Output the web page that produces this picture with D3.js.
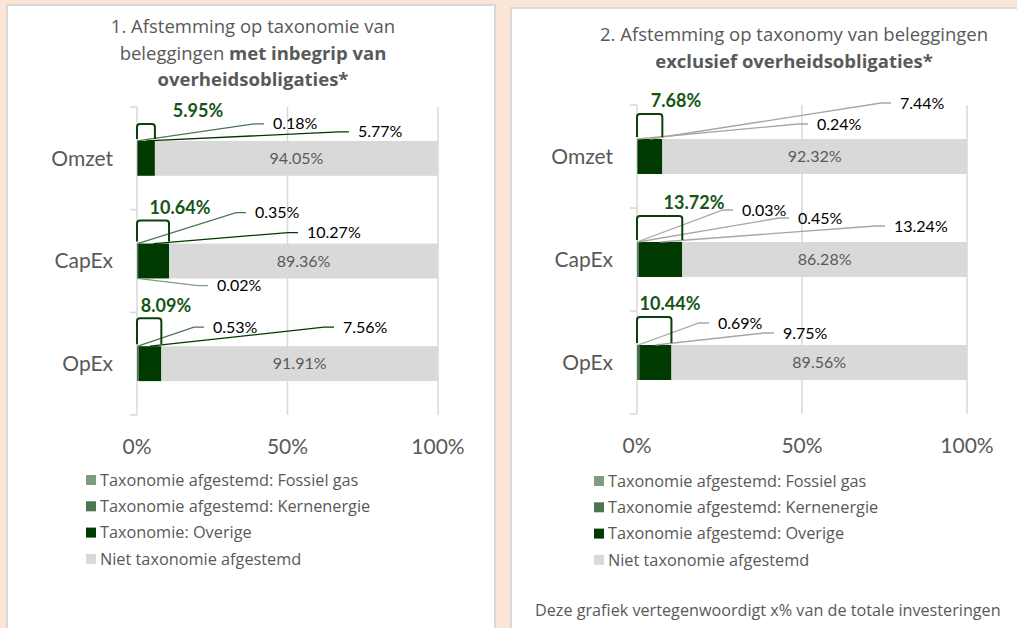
<!DOCTYPE html>
<html>
<head>
<meta charset="utf-8">
<script src="https://cdn.jsdelivr.net/npm/d3@7"></script>
<style>
  body { margin: 0; background: #FBE5D6; }
  svg { display: block; font-family: Lato, 'Open Sans', sans-serif; }
  .wide { font-family: 'Open Sans', Lato, sans-serif; }
</style>
</head>
<body>
<svg id="chart" width="1017" height="628"></svg>
<script>
// Categories and axis ticks
const categories = ['Omzet', 'CapEx', 'OpEx'];
const xTicks = [0, 50, 100];

// Legend labels per chart
const legend1 = ['Taxonomie afgestemd: Fossiel gas', 'Taxonomie afgestemd: Kernenergie', 'Taxonomie: Overige', 'Niet taxonomie afgestemd'];
const legend2 = ['Taxonomie afgestemd: Fossiel gas', 'Taxonomie afgestemd: Kernenergie', 'Taxonomie afgestemd: Overige', 'Niet taxonomie afgestemd'];

// Chart 1: met inbegrip van overheidsobligaties (%)
const fossilGas1 = [0, 0.02, 0];
const nuclear1 = [0.18, 0.35, 0.53];
const other1 = [5.77, 10.27, 7.56];
const notAligned1 = [94.05, 89.36, 91.91];

// Chart 2: exclusief overheidsobligaties (%)
const fossilGas2 = [0, 0.03, 0];
const nuclear2 = [0.24, 0.45, 0.69];
const other2 = [7.44, 13.24, 9.75];
const notAligned2 = [92.32, 86.28, 89.56];

const keys = ['fossil', 'nuclear', 'other', 'not'];
const colors = { fossil: '#7F9D80', nuclear: '#4E7552', other: '#013A01', not: '#D9D9D9' };

// hand placed label offsets (px from bar start / bar top), like the Excel original
const labelOffsets1 = [
  [null, [136, -17], [221, -9]],
  [[80, 42], [118, -31], [170, -11]],
  [null, [76, -19], [206, -19]]
];
const totalOffsets1 = [[61, -30], [43, -36], [29, -41]];
const labelOffsets2 = [
  [null, [180, -15], [263, -36]],
  [[105, -32], [161, -24], [257, -16]],
  [null, [81, -22], [146, -12]]
];
const totalOffsets2 = [[39, -38], [57, -39], [33, -41]];

const svg = d3.select('#chart');
const grey = '#595959';

// panels
svg.append('rect').attr('x', 7).attr('y', 5).attr('width', 488).attr('height', 660)
  .attr('fill', '#fff').attr('stroke', '#D9D9D9').attr('stroke-width', 2);
svg.append('rect').attr('x', 511).attr('y', 8).attr('width', 540).attr('height', 660)
  .attr('fill', '#fff').attr('stroke', '#D9D9D9').attr('stroke-width', 2);

function drawChart(opt) {
  const rows = categories.map((c, i) => ({
    cat: c, fossil: opt.fossil[i], nuclear: opt.nuclear[i], other: opt.other[i], not: opt.not[i]
  }));
  const stacked = d3.stack().keys(keys)(rows);

  const x = d3.scaleLinear().domain([0, 100]).range([opt.left, opt.right]);
  const y = d3.scaleBand().domain(categories).range([opt.top, opt.bottom])
    .paddingInner(0.66).paddingOuter(0.33);

  const g = svg.append('g');

  // vertical gridlines
  g.selectAll('.grid').data(xTicks).join('line')
    .attr('x1', d => x(d)).attr('x2', d => x(d))
    .attr('y1', opt.top).attr('y2', opt.bottom)
    .attr('stroke', '#D9D9D9').attr('stroke-width', 1.5);

  // category boundary ticks
  d3.range(categories.length + 1).forEach(i => {
    const yy = opt.top + i * y.step();
    g.append('line').attr('x1', x(0) - 7).attr('x2', x(0))
      .attr('y1', yy).attr('y2', yy)
      .attr('stroke', '#D9D9D9').attr('stroke-width', 1.5);
  });

  // x tick labels
  g.selectAll('.xt').data(xTicks).join('text')
    .attr('x', d => x(d)).attr('y', opt.bottom + 32)
    .attr('dy', '0.35em').attr('text-anchor', 'middle')
    .attr('fill', grey).style('font-size', '21px')
    .text(d => d + '%');

  // category labels
  g.selectAll('.cat').data(categories).join('text')
    .attr('x', x(0) - 24).attr('y', d => y(d) + y.bandwidth() / 2)
    .attr('dy', '0.35em').attr('text-anchor', 'end')
    .attr('fill', grey).style('font-size', '21px')
    .text(d => d);

  // bars
  g.selectAll('.layer').data(stacked).join('g')
    .attr('fill', d => colors[d.key])
    .selectAll('rect').data(d => d).join('rect')
    .attr('x', d => x(d[0]))
    .attr('width', d => x(d[1]) - x(d[0]))
    .attr('y', d => y(d.data.cat))
    .attr('height', y.bandwidth());

  // inside labels for the not-aligned part
  const notLayer = stacked[3];
  g.selectAll('.inlab').data(notLayer).join('text')
    .attr('x', d => (x(d[0]) + x(d[1])) / 2)
    .attr('y', d => y(d.data.cat) + y.bandwidth() / 2)
    .attr('dy', '0.35em').attr('text-anchor', 'middle')
    .attr('fill', grey).style('font-size', '16px')
    .text(d => d[1] - d[0] === 0 ? '' : d.data.not.toFixed(2) + '%');

  // leader labels for aligned parts
  categories.forEach((cat, ci) => {
    const barTop = y(cat);
    const barBottom = barTop + y.bandwidth();
    [0, 1, 2].forEach(si => {
      const off = opt.labelOffsets[ci][si];
      const seg = stacked[si][ci];
      const val = seg.data[keys[si]];
      if (!off || !val) return;
      const tx = x(0) + off[0];
      const ty = barTop + off[1];
      const ax = x((seg[0] + seg[1]) / 2);
      const ay = off[1] > 0 ? barBottom : barTop;
      const endX = tx - 9;
      g.append('path')
        .attr('d', `M${ax},${ay}L${endX - 10},${ty}L${endX},${ty}`)
        .attr('fill', 'none')
        .attr('stroke', opt.lineColor || colors[keys[si]])
        .attr('stroke-width', 1.3);
      g.append('text')
        .attr('x', tx).attr('y', ty).attr('dy', '0.35em')
        .attr('fill', '#000').style('font-size', '16px')
        .text(val.toFixed(2) + '%');
    });

    // total aligned label with bracket
    const total = opt.fossil[ci] + opt.nuclear[ci] + opt.other[ci];
    const toff = opt.totalOffsets[ci];
    const ly = barTop + toff[1];
    const bx0 = x(0), bx1 = x(total);
    const by0 = ly + 13, by1 = barTop - 2, r = 3;
    g.append('path')
      .attr('d', `M${bx0},${by1}L${bx0},${by0 + r}Q${bx0},${by0} ${bx0 + r},${by0}L${bx1 - r},${by0}Q${bx1},${by0} ${bx1},${by0 + r}L${bx1},${by1}`)
      .attr('fill', 'none').attr('stroke', '#0B3F0B').attr('stroke-width', 2);
    g.append('text')
      .attr('x', x(0) + toff[0]).attr('y', ly).attr('dy', '0.35em')
      .attr('text-anchor', 'middle')
      .attr('fill', '#165516').style('font-size', '18px').style('font-weight', 'bold')
      .text(total.toFixed(2) + '%');
  });

  // title
  const title = g.append('text').attr('class', 'wide').attr('text-anchor', 'middle')
    .attr('fill', grey).style('font-size', '18.5px');
  opt.title.forEach((line, li) => {
    const t = title.append('tspan').attr('x', opt.titleX).attr('y', opt.titleY + li * 26.5);
    line.forEach(part => {
      t.append('tspan').style('font-weight', part[1] ? 'bold' : 'normal').text(part[0]);
    });
  });

  // legend
  const leg = g.selectAll('.leg').data(opt.legend).join('g')
    .attr('transform', (d, i) => `translate(${opt.legendX},${opt.legendY + i * 26.3})`);
  leg.append('rect').attr('x', 0).attr('y', -5).attr('width', 10).attr('height', 10)
    .attr('fill', (d, i) => colors[keys[i]]);
  leg.append('text').attr('class', 'wide').attr('x', 14).attr('y', 0).attr('dy', '0.35em')
    .attr('fill', grey).style('font-size', '16.3px').text(d => d);
}

drawChart({
  left: 137, right: 438, top: 107, bottom: 415,
  fossil: fossilGas1, nuclear: nuclear1, other: other1, not: notAligned1,
  labelOffsets: labelOffsets1, totalOffsets: totalOffsets1,
  legend: legend1, legendX: 86, legendY: 480,
  titleX: 253, titleY: 33,
  title: [
    [['1. Afstemming op taxonomie van', false]],
    [['beleggingen ', false], ['met inbegrip van', true]],
    [['overheidsobligaties*', true]]
  ]
});

drawChart({
  left: 637, right: 967, top: 105, bottom: 414,
  fossil: fossilGas2, nuclear: nuclear2, other: other2, not: notAligned2,
  labelOffsets: labelOffsets2, totalOffsets: totalOffsets2,
  lineColor: '#A6A6A6',
  legend: legend2, legendX: 594, legendY: 481,
  titleX: 794, titleY: 41,
  title: [
    [['2. Afstemming op taxonomy van beleggingen', false]],
    [['exclusief overheidsobligaties*', true]]
  ]
});

svg.append('text').attr('class', 'wide').attr('x', 535).attr('y', 610).attr('dy', '0.35em')
  .attr('fill', grey).style('font-size', '16.2px')
  .text('Deze grafiek vertegenwoordigt x% van de totale investeringen');
</script>
</body>
</html>
